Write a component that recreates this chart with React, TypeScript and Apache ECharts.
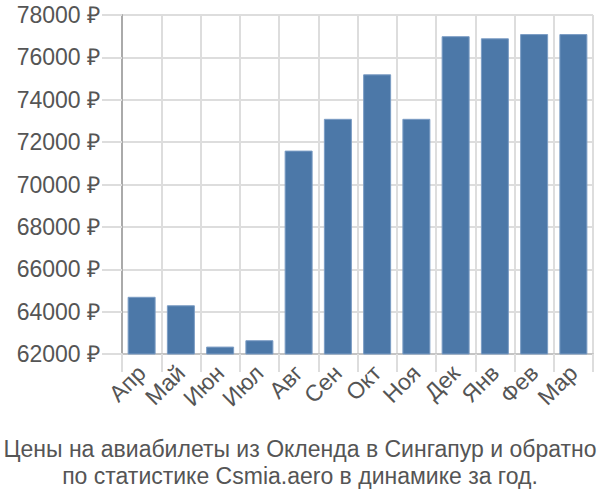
import React, { useEffect, useRef } from "react";
import * as echarts from "echarts";

const months = ["Апр", "Май", "Июн", "Июл", "Авг", "Сен", "Окт", "Ноя", "Дек", "Янв", "Фев", "Мар"];
const prices = [64700, 64300, 62350, 62650, 71600, 73100, 75200, 73100, 77000, 76900, 77100, 77100];
const titleLines = [
  "Цены на авиабилеты из Окленда в Сингапур и обратно",
  "по статистике Csmia.aero в динамике за год.",
];

export default function App() {
  const ref = useRef<HTMLDivElement>(null);
  useEffect(() => {
    if (!ref.current) return;
    const chart = echarts.init(ref.current, null, { renderer: "svg" });
    chart.setOption({
      animation: false,
      title: {
        text: titleLines.join("\n"),
        left: "center",
        top: 430,
        textStyle: {
          fontFamily: "Liberation Sans, Arial, sans-serif",
          fontSize: 23,
          fontWeight: "normal",
          color: "#555",
          lineHeight: 27,
        },
      },
      grid: { left: 122, right: 7, top: 15, bottom: 146, containLabel: false },
      xAxis: {
        type: "category",
        data: months,
        axisLine: { show: true, lineStyle: { color: "#c4c4c4", width: 2 } },
        axisTick: { show: true, length: 18, interval: 0, lineStyle: { color: "#ddd", width: 2 } },
        splitLine: { show: true, interval: 0, lineStyle: { color: "#ddd", width: 2 } },
        axisLabel: {
          rotate: 45,
          interval: 0,
          margin: 15,
          fontSize: 23,
          color: "#555",
          fontFamily: "Liberation Sans, Arial, sans-serif",
        },
      },
      yAxis: {
        type: "value",
        min: 62000,
        max: 78000,
        interval: 2000,
        axisLine: { show: true, lineStyle: { color: "#aaa", width: 2 } },
        axisTick: { show: true, length: 20, lineStyle: { color: "#ddd", width: 2 } },
        splitLine: { show: true, lineStyle: { color: "#ddd", width: 2 } },
        axisLabel: {
          formatter: (v: number) => `${v} ₽`,
          margin: 22,
          fontSize: 23,
          color: "#555",
          fontFamily: "Liberation Sans, Arial, sans-serif",
        },
      },
      series: [
        {
          type: "bar",
          data: prices,
          barWidth: 28,
          itemStyle: { color: "#4c78a8", borderColor: "#7b9cc4", borderWidth: 1 },
        },
      ],
    });
    return () => chart.dispose();
  }, []);
  return <div ref={ref} style={{ width: 600, height: 500, position: "absolute", left: 0, top: 0 }} />;
}
